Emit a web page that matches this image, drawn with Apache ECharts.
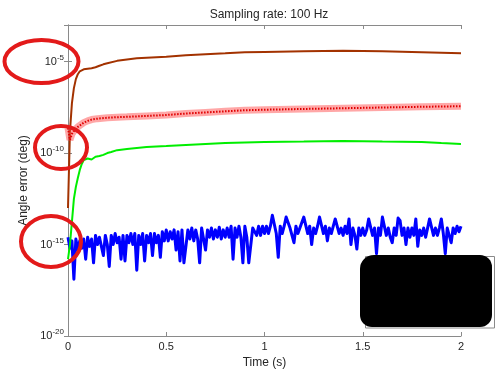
<!DOCTYPE html>
<html>
<head>
<meta charset="utf-8">
<script src="https://cdn.jsdelivr.net/npm/echarts@6/dist/echarts.min.js"></script>
<style>
  html, body { margin: 0; padding: 0; background: #fff; }
  #chart { width: 500px; height: 375px; }
</style>
</head>
<body>
<div id="chart"></div>
<script>
// Angle error vs time, values as log10(error in deg)
const sampleRateHz = 100

const brownTime = [0, 0.01, 0.02, 0.03, 0.04, 0.05, 0.06, 0.07, 0.08, 0.10, 0.12, 0.14, 0.16, 0.18, 0.20,
  0.25, 0.30, 0.35, 0.40, 0.50, 0.60, 0.70, 0.80, 0.90, 1.00, 1.20, 1.40, 1.60, 1.80, 1.90, 2.00]
const brownLog = [-13.0, -8.8, -7.27, -6.45, -5.96, -5.69, -5.53, -5.45, -5.42, -5.39, -5.36, -5.31, -5.23, -5.15, -5.09,
  -4.96, -4.88, -4.82, -4.79, -4.74, -4.66, -4.60, -4.55, -4.49, -4.47, -4.44, -4.41, -4.44, -4.49, -4.52, -4.55]

const redTime = [0, 0.01, 0.02, 0.03, 0.04, 0.05, 0.06, 0.08, 0.10, 0.12, 0.15, 0.20, 0.25, 0.30, 0.40,
  0.50, 0.60, 0.70, 0.80, 0.90, 1.00, 1.20, 1.40, 1.60, 1.80, 2.00]
const redLog = [-8.63, -9.28, -8.95, -8.80, -8.68, -8.57, -8.48, -8.34, -8.24, -8.17, -8.12, -8.07, -8.04, -8.02, -7.97,
  -7.92, -7.84, -7.78, -7.72, -7.66, -7.63, -7.59, -7.55, -7.51, -7.47, -7.44]

const greenTime = [0, 0.01, 0.02, 0.03, 0.04, 0.05, 0.06, 0.07, 0.08, 0.09, 0.10, 0.12, 0.14, 0.16, 0.18, 0.20,
  0.22, 0.25, 0.30, 0.40, 0.50, 0.60, 0.70, 0.80, 0.90, 1.00, 1.20, 1.40, 1.60, 1.80, 1.90, 2.00]
const greenLog = [-15.8, -15.0, -13.75, -12.5, -11.85, -11.36, -10.92, -10.6, -10.38, -10.3, -10.3, -10.35, -10.2, -10.16, -10.1, -10.0,
  -9.94, -9.84, -9.78, -9.67, -9.62, -9.56, -9.50, -9.45, -9.42, -9.39, -9.37, -9.34, -9.37, -9.39, -9.45, -9.50]

// one value per sample (100 Hz)
const blueLog = [
  -14.6, -15.2, -14.8, -16.9, -14.7, -15.3, -14.8, -15.2, -14.7, -15.8,
  -14.6, -15.1, -14.7, -16.0, -14.5, -15.0, -14.6, -15.1, -15.6, -14.5,
  -15.0, -16.2, -14.5, -15.0, -14.4, -14.9, -14.6, -15.8, -14.5, -15.9,
  -14.5, -14.9, -14.4, -15.0, -14.4, -16.4, -14.5, -15.0, -14.4, -15.9,
  -14.5, -14.9, -14.4, -15.6, -14.4, -14.9, -14.5, -15.7, -14.3, -14.8,
  -14.2, -14.8, -14.3, -14.7, -14.2, -15.3, -14.3, -15.9, -14.2, -16.0,
  -16.0, -14.2, -14.7, -14.1, -14.8, -14.2, -14.7, -16.0, -14.1, -14.7,
  -15.3, -14.2, -14.6, -14.1, -14.7, -14.2, -14.6, -14.05, -14.7, -14.2,
  -14.6, -14.1, -14.6, -14.0, -15.8, -14.1, -14.6, -14.0, -14.6, -16.0,
  -14.0, -14.6, -16.0, -15.9, -14.1, -14.0, -14.5, -14.0, -14.5, -14.0,
  -14.4, -14.0, -14.4, -14.0, -13.4, -13.5, -14.4, -15.7, -14.0, -14.4,
  -14.0, -13.5, -13.4, -14.1, -14.5, -14.9, -14.0, -14.4, -14.1, -14.0,
  -13.5, -13.6, -14.4, -14.0, -15.0, -14.1, -14.4, -14.0, -13.5, -13.6,
  -14.4, -14.0, -14.8, -14.1, -14.4, -14.0, -13.6, -13.6, -14.4, -14.1,
  -14.5, -14.0, -14.4, -13.6, -15.0, -14.1, -14.5, -15.25, -14.1, -14.5,
  -14.1, -14.5, -14.2, -13.6, -13.6, -14.5, -14.1, -15.5, -14.1, -14.5,
  -13.5, -13.6, -14.5, -14.1, -14.6, -14.9, -14.1, -14.5, -13.55, -13.7,
  -14.5, -14.1, -15.0, -14.1, -14.6, -14.1, -14.5, -13.6, -15.1, -14.2,
  -14.5, -14.1, -14.6, -14.1, -13.6, -13.7, -14.5, -14.1, -14.5, -14.1,
  -13.6, -14.4, -15.5, -14.1, -14.5, -14.9, -14.1, -14.4, -14.0, -14.3,
  -14.0
]
const blueTime = blueLog.map((_, i) => i / sampleRateHz)

const xTicks = [0, 0.5, 1, 1.5, 2]
const yMinExp = -20
const yMaxExp = -3
const yStepExp = 5

const FONT = "'Liberation Sans', Arial, sans-serif"
const TEXT = '#262626'
const BOX = '#8a8a8a'

const toPairs = (ts, logs) => ts.map((t, i) => [t, Math.pow(10, logs[i])])

const supLabel = v => {
  const e = Math.round(Math.log10(v))
  return '{b|10}{s|' + e + '}'
}

const yAxisBase = {
  type: 'log',
  logBase: 10,
  min: Math.pow(10, yMinExp),
  max: Math.pow(10, yMaxExp),
  interval: yStepExp,
  axisLine: { show: true, lineStyle: { color: BOX, width: 1 } },
  axisTick: { show: true, inside: true, length: 4, lineStyle: { color: BOX } },
  splitLine: { show: false },
  minorTick: { show: false }
}

const xAxisBase = {
  type: 'value',
  min: xTicks[0],
  max: xTicks[xTicks.length - 1],
  interval: 0.5,
  axisLine: { show: true, lineStyle: { color: BOX, width: 1 } },
  axisTick: { show: true, inside: true, length: 4, lineStyle: { color: BOX } },
  splitLine: { show: false }
}

const redCircle = (cx, cy, rx, ry) => ({
  type: 'ellipse',
  z: 100,
  shape: { cx, cy, rx, ry },
  style: { fill: 'none', stroke: '#e31a1a', lineWidth: 4 }
})

const option = {
  animation: false,
  backgroundColor: '#fff',
  textStyle: { fontFamily: FONT },
  title: {
    text: 'Sampling rate: 100 Hz',
    left: 264,
    top: 4,
    textAlign: 'center',
    textStyle: { fontFamily: FONT, fontSize: 12, fontWeight: 'normal', color: TEXT }
  },
  grid: { left: 68, top: 25, width: 393, height: 311 },
  xAxis: [
    {
      ...xAxisBase,
      position: 'bottom',
      name: 'Time (s)',
      nameLocation: 'middle',
      nameGap: 20,
      nameTextStyle: { fontFamily: FONT, fontSize: 12, color: TEXT },
      axisLabel: { fontFamily: FONT, fontSize: 11, color: TEXT, margin: 5 }
    },
    { ...xAxisBase, position: 'top', axisLabel: { show: false } }
  ],
  yAxis: [
    {
      ...yAxisBase,
      position: 'left',
      name: 'Angle error (deg)',
      nameLocation: 'middle',
      nameGap: 27,
      nameTextStyle: { fontFamily: FONT, fontSize: 12, color: TEXT },
      axisLabel: {
        margin: 4,
        showMaxLabel: false,
        formatter: supLabel,
        rich: {
          b: { fontFamily: FONT, fontSize: 11, color: TEXT, lineHeight: 16 },
          s: { fontFamily: FONT, fontSize: 8, color: TEXT, lineHeight: 8, verticalAlign: 'top' }
        }
      }
    },
    { ...yAxisBase, position: 'right', axisLabel: { show: false } }
  ],
  series: [
    {
      name: 'brown',
      type: 'line',
      data: toPairs(brownTime, brownLog),
      showSymbol: false,
      lineStyle: { color: '#a33200', width: 2 }
    },
    {
      name: 'blue',
      type: 'line',
      data: toPairs(blueTime, blueLog),
      showSymbol: false,
      lineStyle: { color: '#0000ff', width: 3, join: 'round' }
    },
    {
      name: 'green',
      type: 'line',
      data: toPairs(greenTime, greenLog),
      showSymbol: false,
      lineStyle: { color: '#00ee00', width: 2 }
    },
    {
      name: 'red band',
      type: 'line',
      data: toPairs(redTime, redLog),
      showSymbol: false,
      lineStyle: { color: 'rgba(255,80,80,0.5)', width: 7 }
    },
    {
      name: 'red',
      type: 'line',
      data: toPairs(redTime, redLog),
      showSymbol: false,
      lineStyle: { color: '#e00000', width: 2, type: [1.5, 1.5] }
    }
  ],
  graphic: [
    // legend box, hidden under a black scribble
    {
      type: 'rect',
      z: 99,
      shape: { x: 365.5, y: 256.5, width: 129, height: 71.5 },
      style: { fill: '#fff', stroke: BOX, lineWidth: 1 }
    },
    {
      type: 'rect',
      z: 100,
      shape: { x: 360, y: 255, width: 132, height: 72, r: [14, 12, 12, 12] },
      style: { fill: '#000' }
    },
    redCircle(41.5, 61.5, 37, 21.5),
    redCircle(61, 147.5, 26, 21.5),
    redCircle(51, 241.5, 30, 25.5)
  ]
}

const chart = echarts.init(document.getElementById('chart'))
chart.setOption(option)
</script>
</body>
</html>
